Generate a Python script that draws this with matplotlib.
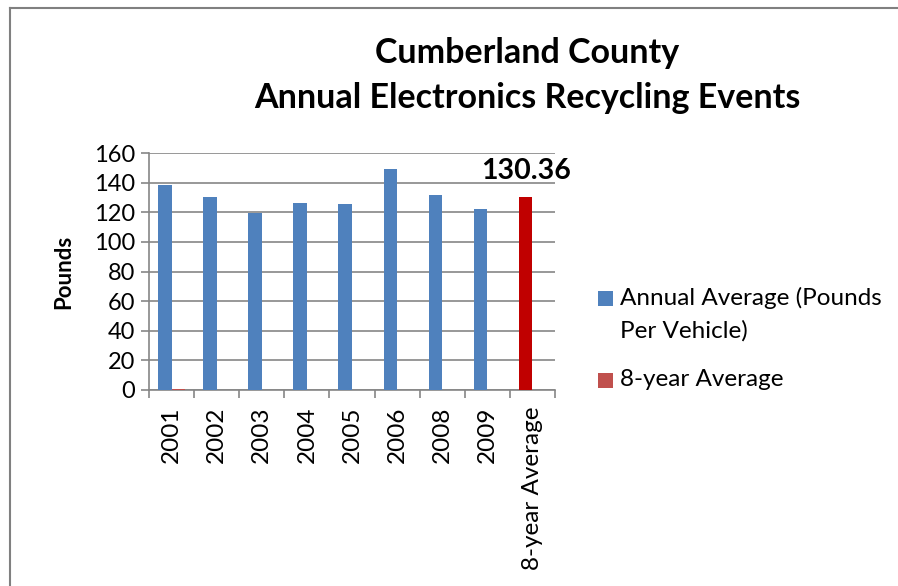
import matplotlib.pyplot as plt
from matplotlib.lines import Line2D
from matplotlib.patches import Rectangle
import numpy as np

plt.rcParams['font.family'] = ['Lato', 'DejaVu Sans']

categories = ['2001', '2002', '2003', '2004', '2005', '2006', '2008', '2009', '8-year Average']
annual_avg = [138.6, 130.3, 119.7, 126.2, 125.3, 149.0, 131.6, 122.2, 130.36]
eight_year = [0.8, 0, 0, 0, 0, 0, 0, 0, 0]
avg_label = '130.36'
legend_labels = ['Annual Average (Pounds\nPer Vehicle)', '8-year Average']

BLUE = '#4F81BD'
RED_SERIES = '#C0504D'
RED_POINT = '#C00000'
GRID = '#868686'

W, H = 898, 586
fig = plt.figure(figsize=(W / 100, H / 100), dpi=100)
ax = fig.add_axes([149 / W, 1 - 390 / H, (555 - 149) / W, (390 - 153) / H])

x = np.arange(len(categories))
w = 0.3
blue_colors = [BLUE] * (len(categories) - 1) + [RED_POINT]
ax.bar(x + 0.5 - w / 2, annual_avg, width=w, color=blue_colors, zorder=3)
ax.bar(x + 0.5 + w / 2, eight_year, width=w, color=RED_SERIES, zorder=3)

# data label on the average bar
ax.annotate(avg_label, (x[-1] + 0.5 - w / 2, annual_avg[-1]), xytext=(0, 9),
            textcoords='offset points', ha='center', va='bottom',
            fontsize=20.5, fontweight='bold')

ax.set_xlim(0, len(categories))
ax.set_ylim(0, 160)
ax.set_yticks(range(0, 161, 20))
ax.yaxis.grid(True, color=GRID, linewidth=1.2, zorder=0)
ax.set_axisbelow(True)

ax.set_xticks(x + 0.5)
ax.set_xticklabels(categories, rotation=90, fontsize=17.5)
ax.set_xticks(np.arange(len(categories) + 1), minor=True)
ax.tick_params(axis='x', which='major', length=0, pad=12)
ax.tick_params(axis='x', which='minor', length=6, width=1.2, color=GRID)
ax.tick_params(axis='y', length=6, width=1.2, color=GRID, labelsize=17, pad=4)

for s in ['top', 'right']:
    ax.spines[s].set_visible(False)
for s in ['left', 'bottom']:
    ax.spines[s].set_color(GRID)
    ax.spines[s].set_linewidth(1.2)

ax.set_ylabel('Pounds', fontsize=16, fontweight='bold', labelpad=14)

fig.text(527 / W, 1 - 53 / H, 'Cumberland County', ha='center', va='center',
         fontsize=24.5, fontweight='bold')
fig.text(527 / W, 1 - 98 / H, 'Annual Electronics Recycling Events', ha='center',
         va='center', fontsize=24.5, fontweight='bold')

# legend drawn by hand: square aligned with the first text line, as in Excel
for color, label, ytop in [(BLUE, legend_labels[0], 291), (RED_SERIES, legend_labels[1], 373)]:
    fig.add_artist(Rectangle((598 / W, 1 - (ytop + 15) / H), 15 / W, 15 / H,
                             facecolor=color, edgecolor='none'))
    fig.text(620 / W, 1 - (ytop - 4) / H, label, ha='left', va='top',
             fontsize=17.5, linespacing=1.65)

# chart border (top and left visible)
fig.add_artist(Line2D([10 / W, 10 / W], [0, 1 - 8 / H], color='#808080', linewidth=1.5))
fig.add_artist(Line2D([10 / W, 1], [1 - 8 / H, 1 - 8 / H], color='#808080', linewidth=1.5))

plt.savefig('out.png', dpi=100)
